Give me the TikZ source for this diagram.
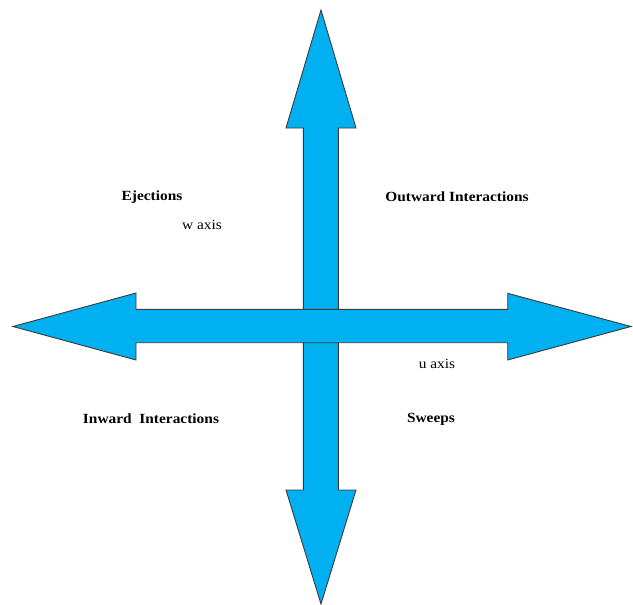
\documentclass[tikz,border=0pt]{standalone}
\usepackage{fontspec}
\setmainfont{Liberation Serif}
\newfontfamily\labelfont[FakeStretch=1.1]{Liberation Serif}
\definecolor{arrowblue}{HTML}{00B0F0}
\definecolor{edgegray}{HTML}{3A3A3A}
\begin{document}
\begin{tikzpicture}[x=1pt,y=-1pt,
  bigarrow/.style={fill=arrowblue,draw=edgegray,line width=0.9pt,line join=miter},
  quadlabel/.style={font=\labelfont\bfseries\fontsize{14}{16}\selectfont,inner sep=0pt},
  axislabel/.style={font=\labelfont\fontsize{14}{16}\selectfont,inner sep=0pt}]
\useasboundingbox (0,0) rectangle (633,605);
% vertical arrow
\draw[bigarrow] (321,10) -- (356,128) -- (338.3,128) -- (338.3,490) -- (356,490)
  -- (321,604) -- (286,490) -- (303.3,490) -- (303.3,128) -- (286,128) -- cycle;
% horizontal arrow
\draw[bigarrow] (13,326.5) -- (136,293) -- (136,309.3) -- (507.7,309.3) -- (507.7,293.3)
  -- (631,326.5) -- (507.7,360) -- (507.7,342.7) -- (136,342.7) -- (136,360) -- cycle;
% labels
\node[quadlabel] (ej) at (152,197) {Ejections};
\node[axislabel] (w) at (202,225) {w axis};
\node[quadlabel] (out) at (457,197) {Outward Interactions};
\node[axislabel] (u) at (437,364) {u axis};
\node[quadlabel] (in) at (151,419) {Inward\ \ Interactions};
\node[quadlabel] (sw) at (431,419.5) {Sweeps};
\end{tikzpicture}
\end{document}
